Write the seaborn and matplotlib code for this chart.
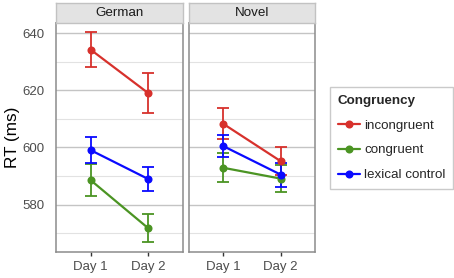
import numpy as np
import pandas as pd
import matplotlib
matplotlib.use("Agg")
import matplotlib.pyplot as plt
from matplotlib.lines import Line2D
from matplotlib.ticker import MultipleLocator
import seaborn as sns

# data
days = ["Day 1", "Day 2"]
panels = ["German", "Novel"]
conditions = ["incongruent", "congruent", "lexical control"]

german_rt = {
    "incongruent": [634.3, 619.1],
    "congruent": [588.6, 571.8],
    "lexical control": [599.1, 589.0],
}
german_err = {
    "incongruent": [6.0, 7.0],
    "congruent": [5.7, 5.0],
    "lexical control": [4.5, 4.3],
}
novel_rt = {
    "incongruent": [608.3, 595.2],
    "congruent": [592.9, 589.1],
    "lexical control": [600.5, 590.5],
}
novel_err = {
    "incongruent": [5.4, 4.8],
    "congruent": [5.1, 4.8],
    "lexical control": [3.9, 4.2],
}

colors = {
    "incongruent": "#d7312c",
    "congruent": "#4b9423",
    "lexical control": "#0a0aff",
}

sns.set_theme(style="white")
plt.rcParams["font.family"] = ["Liberation Sans", "DejaVu Sans"]

rows = []
for panel, rt, err in [("German", german_rt, german_err), ("Novel", novel_rt, novel_err)]:
    for cond in conditions:
        for i, day in enumerate(days):
            rows.append({"panel": panel, "cond": cond, "x": i, "day": day,
                         "rt": rt[cond][i], "err": err[cond][i]})
df = pd.DataFrame(rows)

W, H = 454, 278
fig = plt.figure(figsize=(W / 100, H / 100), dpi=100)

panel_left = [56, 188.7]
panel_w = 126.5
panel_top, panel_bot = 22.7, 252.3
strip_top = 3.0

tick_gray = "#4d4d4d"
for k, panel in enumerate(panels):
    x0 = panel_left[k]
    ax = fig.add_axes([x0 / W, (H - panel_bot) / H, panel_w / W, (panel_bot - panel_top) / H])
    sub = df[df["panel"] == panel]

    for cond in conditions:
        d = sub[sub["cond"] == cond]
        ax.errorbar(d["x"], d["rt"], yerr=d["err"], fmt="none", ecolor=colors[cond],
                    elinewidth=1.3, capsize=4.6, capthick=1.3, zorder=3)
    sns.lineplot(data=sub, x="x", y="rt", hue="cond", hue_order=conditions,
                 palette=colors, marker="o", markersize=5.8, markeredgewidth=0,
                 linewidth=1.6, legend=False, ax=ax, zorder=4)

    ax.set_xlim(-0.6, 1.6)
    ax.set_ylim(563.3, 643.7)
    ax.set_xticks([0, 1])
    ax.set_xticklabels(days)
    ax.yaxis.set_major_locator(MultipleLocator(20))
    ax.yaxis.set_minor_locator(MultipleLocator(10))
    ax.grid(axis="y", which="major", color="#c4c4c4", linewidth=1.0)
    ax.grid(axis="y", which="minor", color="#e2e2e2", linewidth=0.8)
    ax.set_axisbelow(True)
    ax.set_xlabel("")
    ax.set_ylabel("")
    for s in ax.spines.values():
        s.set_color("#8c8c8c")
        s.set_linewidth(1.1)
    ax.tick_params(axis="x", which="major", length=3, width=1, color="#333333",
                   labelsize=9.5, labelcolor=tick_gray, pad=3, bottom=True)
    ax.tick_params(axis="y", which="both", length=0, labelsize=9.5,
                   labelcolor=tick_gray, pad=8.2)
    if k == 0:
        ax.set_ylabel("RT (ms)", fontsize=12.3, color="black", labelpad=2)
    else:
        ax.set_yticklabels([])

    # facet strip
    sax = fig.add_axes([x0 / W, (H - panel_top) / H, panel_w / W, (panel_top - strip_top) / H])
    sax.set_facecolor("#e3e3e3")
    sax.set_xticks([])
    sax.set_yticks([])
    for s in sax.spines.values():
        s.set_color("#c2c2c2")
        s.set_linewidth(1.0)
    sax.text(0.5, 0.48, panel, ha="center", va="center", fontsize=9.6,
             color="#1a1a1a", transform=sax.transAxes)

handles = [Line2D([0], [0], color=colors[c], marker="o", markersize=5.8,
                  markeredgewidth=0, linewidth=1.6) for c in conditions]
leg = fig.legend(handles, conditions, title="Congruency",
                 loc="upper left", bbox_to_anchor=(330 / W, (H - 87) / H),
                 borderaxespad=0, fontsize=9.6,
                 title_fontproperties={"weight": "bold", "size": 9.6},
                 frameon=True, fancybox=False, handlelength=1.65, handletextpad=0.3,
                 labelspacing=0.93, borderpad=0.6, alignment="left")
leg.get_frame().set_edgecolor("#bdbdbd")
leg.get_frame().set_linewidth(1.0)

fig.savefig("out.png", dpi=100)
